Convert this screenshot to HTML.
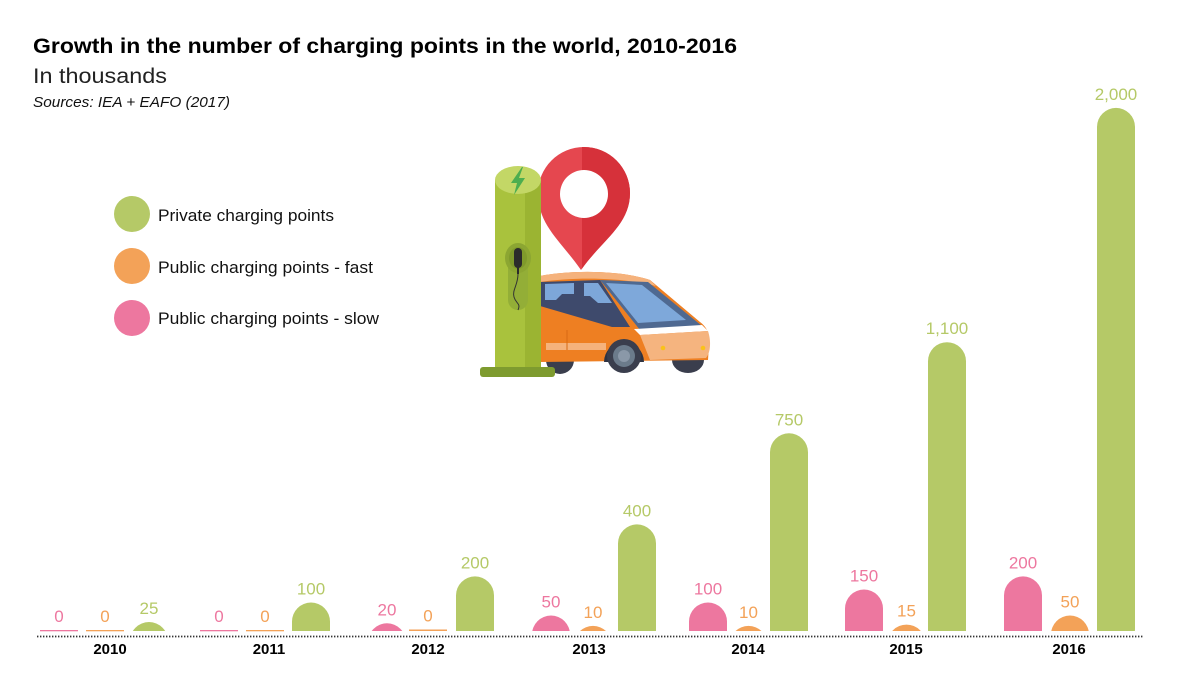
<!DOCTYPE html>
<html>
<head>
<meta charset="utf-8">
<style>
  html, body { margin:0; padding:0; background:#ffffff; }
  body { width:1180px; height:681px; overflow:hidden; }
  svg { display:block; font-family:"Liberation Sans", sans-serif; }
</style>
</head>
<body>
<svg width="1180" height="681" viewBox="0 0 1180 681" xmlns="http://www.w3.org/2000/svg">
  <defs>
    <clipPath id="base"><rect x="0" y="0" width="1180" height="631"/></clipPath>
    <clipPath id="pinR"><rect x="582" y="140" width="60" height="140"/></clipPath>
  </defs>

  <!-- Titles -->
  <text x="33" y="53" font-size="21" font-weight="bold" fill="#000" textLength="704" lengthAdjust="spacingAndGlyphs">Growth in the number of charging points in the world, 2010-2016</text>
  <text x="33" y="83" font-size="21" fill="#222" textLength="134" lengthAdjust="spacingAndGlyphs">In thousands</text>
  <text x="33" y="107" font-size="15" font-style="italic" fill="#111" textLength="197" lengthAdjust="spacingAndGlyphs">Sources: IEA + EAFO (2017)</text>

  <!-- Legend -->
  <circle cx="132" cy="214" r="18" fill="#B5C967"/>
  <circle cx="132" cy="266" r="18" fill="#F3A258"/>
  <circle cx="132" cy="318" r="18" fill="#ED779F"/>
  <text x="158" y="221" font-size="17" fill="#111" textLength="176" lengthAdjust="spacingAndGlyphs">Private charging points</text>
  <text x="158" y="273" font-size="17" fill="#111" textLength="215" lengthAdjust="spacingAndGlyphs">Public charging points - fast</text>
  <text x="158" y="324" font-size="17" fill="#111" textLength="221" lengthAdjust="spacingAndGlyphs">Public charging points - slow</text>

  <!-- Illustration: pin -->
  <path d="M581,270 C560,240 538,225 538,193 A46,46 0 0 1 630,193 C630,225 602,240 581,270 Z" fill="#E5474F"/>
  <path d="M581,270 C560,240 538,225 538,193 A46,46 0 0 1 630,193 C630,225 602,240 581,270 Z" fill="#D6313A" clip-path="url(#pinR)"/>
  <circle cx="584" cy="194" r="24" fill="#ffffff"/>

  <!-- Car -->
  <circle cx="560" cy="360" r="14" fill="#3A3E4D"/>
  <ellipse cx="688" cy="360" rx="16" ry="13" fill="#3A3E4D"/>
  <path d="M540,276 C570,270 620,270 650,280 L700,322 C708,328 710,335 709,345 L708,360 L540,362 Z" fill="#EE7F22"/>
  <path d="M540,276 C570,270 620,270 650,280 L656,286 C620,277 575,277 540,282 Z" fill="#F5B27C"/>
  <polygon points="540,282 600,280 630,327 612,327 540,306" fill="#3E4A6C"/>
  <polygon points="545,284 574,283 574,294 562,294 556,300 545,300" fill="#7DA7D9"/>
  <polygon points="584,283 598,283 612,303 598,303 590,296 584,296" fill="#7DA7D9"/>
  <polygon points="600,280 648,282 702,326 640,330" fill="#4F6991"/>
  <polygon points="606,283 642,285 686,320 638,323" fill="#7EA8DA"/>
  <polygon points="634,329 702,325 708,331 640,335" fill="#ffffff"/>
  <path d="M640,335 L708,331 C711,340 711,352 706,358 L650,360 Z" fill="#F5B47F"/>
  <circle cx="663" cy="348" r="2.3" fill="#F9C21A"/>
  <circle cx="703" cy="348" r="2.3" fill="#F9C21A"/>
  <rect x="546" y="343" width="60" height="7" fill="#F5B27C"/>
  <line x1="567" y1="330" x2="567" y2="350" stroke="#D86A14" stroke-width="1"/>
  <path d="M604,362 A20,20 0 0 1 644,362 Z" fill="#2F3342"/>
  <circle cx="624" cy="356" r="17" fill="#3A3E4D"/>
  <circle cx="624" cy="356" r="11" fill="#6B7B8B"/>
  <circle cx="624" cy="356" r="6" fill="#8A98A8"/>

  <!-- Charging pillar -->
  <rect x="495" y="180" width="46" height="190" fill="#A9C23D"/>
  <rect x="525" y="180" width="16" height="190" fill="#9BB432"/>
  <ellipse cx="518" cy="180" rx="23" ry="14" fill="#C3D766"/>
  <polygon points="522,167 511,183 517,183 514,195 525,178 519,178 523,167" fill="#4DAE4F"/>
  <rect x="508" y="252" width="20" height="58" rx="10" fill="#93AE37"/>
  <ellipse cx="518" cy="258" rx="13" ry="15" fill="#8CA632"/>
  <ellipse cx="518" cy="258" rx="9" ry="11" fill="#7F9A2B"/>
  <rect x="514" y="248" width="8" height="20" rx="4" fill="#2B2B2B"/>
  <rect x="517" y="266" width="2" height="8" fill="#2B2B2B"/>
  <path d="M518,274 C518,285 512,290 514,297 C516,304 521,303 518,310" stroke="#333" stroke-width="1" fill="none"/>
  <rect x="480" y="367" width="75" height="10" rx="3" fill="#7E9B2F"/>

  <!-- Bars -->
  <g clip-path="url(#base)">
    <rect x="130" y="622" width="38" height="40" rx="19" fill="#B5C967"/>
    <rect x="292" y="602.5" width="38" height="50" rx="19" fill="#B5C967"/>
    <rect x="368" y="623.3" width="38" height="40" rx="19" fill="#ED779F"/>
    <rect x="456" y="576.4" width="38" height="80" rx="19" fill="#B5C967"/>
    <rect x="532" y="615.5" width="38" height="40" rx="19" fill="#ED779F"/>
    <rect x="574" y="625.9" width="38" height="40" rx="19" fill="#F3A258"/>
    <rect x="618" y="524.4" width="38" height="130" rx="19" fill="#B5C967"/>
    <rect x="689" y="602.5" width="38" height="50" rx="19" fill="#ED779F"/>
    <rect x="729.5" y="625.9" width="38" height="40" rx="19" fill="#F3A258"/>
    <rect x="770" y="433.3" width="38" height="220" rx="19" fill="#B5C967"/>
    <rect x="845" y="589.5" width="38" height="60" rx="19" fill="#ED779F"/>
    <rect x="887.5" y="624.6" width="38" height="40" rx="19" fill="#F3A258"/>
    <rect x="928" y="342.2" width="38" height="310" rx="19" fill="#B5C967"/>
    <rect x="1004" y="576.4" width="38" height="80" rx="19" fill="#ED779F"/>
    <rect x="1051" y="615.5" width="38" height="40" rx="19" fill="#F3A258"/>
    <rect x="1097" y="107.9" width="38" height="540" rx="19" fill="#B5C967"/>
  </g>
  <!-- zero lines -->
  <rect x="40" y="630" width="38" height="1.3" fill="#ED779F"/>
  <rect x="86" y="630" width="38" height="1.3" fill="#F3A258"/>
  <rect x="200" y="630" width="38" height="1.3" fill="#ED779F"/>
  <rect x="246" y="630" width="38" height="1.3" fill="#F3A258"/>
  <rect x="409" y="629.5" width="38" height="1.5" fill="#F3A258"/>

  <!-- Value labels -->
  <g font-size="17" text-anchor="middle">
    <text x="59" y="622" fill="#ED779F">0</text>
    <text x="105" y="622" fill="#F3A258">0</text>
    <text x="149" y="614" fill="#B5C967">25</text>

    <text x="219" y="622" fill="#ED779F">0</text>
    <text x="265" y="622" fill="#F3A258">0</text>
    <text x="311" y="594.5" fill="#B5C967">100</text>

    <text x="387" y="615.3" fill="#ED779F">20</text>
    <text x="428" y="621.5" fill="#F3A258">0</text>
    <text x="475" y="568.4" fill="#B5C967">200</text>

    <text x="551" y="607.5" fill="#ED779F">50</text>
    <text x="593" y="617.9" fill="#F3A258">10</text>
    <text x="637" y="516.4" fill="#B5C967">400</text>

    <text x="708" y="594.5" fill="#ED779F">100</text>
    <text x="748.5" y="617.9" fill="#F3A258">10</text>
    <text x="789" y="425.3" fill="#B5C967">750</text>

    <text x="864" y="581.5" fill="#ED779F">150</text>
    <text x="906.5" y="616.6" fill="#F3A258">15</text>
    <text x="947" y="334.2" fill="#B5C967">1,100</text>

    <text x="1023" y="568.4" fill="#ED779F">200</text>
    <text x="1070" y="607.5" fill="#F3A258">50</text>
    <text x="1116" y="99.9" fill="#B5C967">2,000</text>
  </g>

  <!-- Axis dotted line -->
  <line x1="37" y1="636.5" x2="1144" y2="636.5" stroke="#333" stroke-width="1.8" stroke-dasharray="1.4,1.6"/>

  <!-- Year labels -->
  <g font-size="15" font-weight="bold" fill="#000" text-anchor="middle">
    <text x="110" y="654">2010</text>
    <text x="269" y="654">2011</text>
    <text x="428" y="654">2012</text>
    <text x="589" y="654">2013</text>
    <text x="748" y="654">2014</text>
    <text x="906" y="654">2015</text>
    <text x="1069" y="654">2016</text>
  </g>
</svg>
</body>
</html>
